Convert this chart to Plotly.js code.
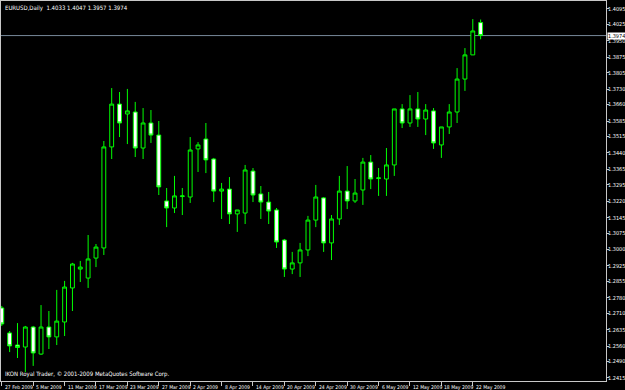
<!DOCTYPE html>
<html>
<head>
<meta charset="utf-8">
<script src="https://cdn.plot.ly/plotly-3.0.1.min.js"></script>
<style>html,body{margin:0;padding:0;background:#000;}#chart{width:625px;height:390px;}</style>
</head>
<body>
<div id="chart"></div>
<script>
const dates = ['2009-02-27','2009-03-02','2009-03-03','2009-03-04','2009-03-05','2009-03-06','2009-03-09','2009-03-10','2009-03-11','2009-03-12','2009-03-13','2009-03-16','2009-03-17','2009-03-18','2009-03-19','2009-03-20','2009-03-23','2009-03-24','2009-03-25','2009-03-26','2009-03-27','2009-03-30','2009-03-31','2009-04-01','2009-04-02','2009-04-03','2009-04-06','2009-04-07','2009-04-08','2009-04-09','2009-04-10','2009-04-13','2009-04-14','2009-04-15','2009-04-16','2009-04-17','2009-04-20','2009-04-21','2009-04-22','2009-04-23','2009-04-24','2009-04-27','2009-04-28','2009-04-29','2009-04-30','2009-05-01','2009-05-04','2009-05-05','2009-05-06','2009-05-07','2009-05-08','2009-05-11','2009-05-12','2009-05-13','2009-05-14','2009-05-15','2009-05-18','2009-05-19','2009-05-20','2009-05-21','2009-05-22','2009-05-25'];
const open  = [1.2734,1.2620,1.2565,1.2556,1.2647,1.2524,1.2647,1.2602,1.2670,1.2825,1.2911,1.2870,1.2961,1.3007,1.3467,1.3662,1.3617,1.3626,1.3462,1.3576,1.3521,1.3221,1.3189,1.3241,1.3239,1.3458,1.3503,1.3412,1.3266,1.3275,1.3162,1.3166,1.3357,1.3253,1.3216,1.3180,1.3043,1.2911,1.2939,1.2998,1.3134,1.3235,1.3030,1.3139,1.3266,1.3221,1.3271,1.3398,1.3323,1.3321,1.3385,1.3640,1.3576,1.3640,1.3594,1.3631,1.3476,1.3558,1.3626,1.3776,1.3886,1.4033];
const high  = [1.2743,1.2629,1.2665,1.2652,1.2652,1.2747,1.2720,1.2816,1.2857,1.2939,1.2948,1.3066,1.3025,1.3494,1.3735,1.3717,1.3731,1.3672,1.3644,1.3635,1.3585,1.3280,1.3335,1.3280,1.3512,1.3489,1.3576,1.3417,1.3303,1.3330,1.3180,1.3385,1.3371,1.3289,1.3262,1.3189,1.3048,1.2989,1.3030,1.3153,1.3294,1.3239,1.3157,1.3335,1.3380,1.3321,1.3417,1.3430,1.3371,1.3462,1.3640,1.3662,1.3703,1.3717,1.3662,1.3644,1.3558,1.3662,1.3826,1.3917,1.4049,1.4047];
const low   = [1.2652,1.2533,1.2506,1.2442,1.2470,1.2520,1.2547,1.2565,1.2606,1.2720,1.2852,1.2825,1.2920,1.2975,1.3412,1.3512,1.3480,1.3421,1.3412,1.3485,1.3248,1.3102,1.3166,1.3157,1.3212,1.3353,1.3348,1.3216,1.3139,1.3116,1.3080,1.3116,1.3216,1.3139,1.3116,1.3007,1.2875,1.2888,1.2875,1.2970,1.3102,1.2989,1.2952,1.3112,1.3184,1.3212,1.3203,1.3275,1.3244,1.3244,1.3335,1.3553,1.3558,1.3558,1.3521,1.3458,1.3417,1.3526,1.3576,1.3722,1.3886,1.3957];
const close = [1.2661,1.2561,1.2554,1.2647,1.2529,1.2647,1.2602,1.2674,1.2829,1.2934,1.2920,1.2957,1.3011,1.3467,1.3662,1.3576,1.3631,1.3462,1.3576,1.3521,1.3285,1.3189,1.3244,1.3244,1.3453,1.3476,1.3408,1.3266,1.3275,1.3162,1.3180,1.3362,1.3248,1.3216,1.3175,1.3034,1.2911,1.2939,1.2998,1.3134,1.3239,1.3030,1.3139,1.3266,1.3221,1.3257,1.3398,1.3321,1.3326,1.3385,1.3640,1.3576,1.3640,1.3594,1.3635,1.3485,1.3558,1.3626,1.3776,1.3886,1.3995,1.3974];

const xTickDates  = ['2009-02-27','2009-03-05','2009-03-11','2009-03-17','2009-03-23','2009-03-27','2009-04-02','2009-04-08','2009-04-14','2009-04-20','2009-04-24','2009-04-30','2009-05-06','2009-05-12','2009-05-18','2009-05-22'];
const xTickLabels = ['27 Feb 2009','5 Mar 2009','11 Mar 2009','17 Mar 2009','23 Mar 2009','27 Mar 2009','2 Apr 2009','8 Apr 2009','14 Apr 2009','20 Apr 2009','24 Apr 2009','30 Apr 2009','6 May 2009','12 May 2009','18 May 2009','22 May 2009'];
const yTickLabels = ['1.4095','1.4025','1.3950','1.3875','1.3805','1.3730','1.3660','1.3585','1.3515','1.3440','1.3365','1.3295','1.3220','1.3145','1.3075','1.3000','1.2925','1.2855','1.2780','1.2710','1.2635','1.2560','1.2490','1.2415'];
const symbolTitle = 'EURUSD,Daily  1.4033 1.4047 1.3957 1.3974';
const footerText = 'IKON Royal Trader, © 2001-2009 MetaQuotes Software Corp.';
const bidPrice = 1.3974;

const FONT = '"Liberation Sans Narrow", "DejaVu Sans Condensed", "Liberation Sans", sans-serif';
const frame = '#c8c8c8';

const trace = {
  type: 'candlestick',
  x: dates,
  open: open, high: high, low: low, close: close,
  increasing: {line: {color: '#00ff00', width: 1}, fillcolor: '#000000'},
  decreasing: {line: {color: '#00ff00', width: 1}, fillcolor: '#ffffff'},
  whiskerwidth: 0,
  hoverinfo: 'skip'
};

// date labels drawn left-aligned just right of each tick, as in the terminal
const dateAnnotations = xTickDates.map((d, i) => ({
  xref: 'x', yref: 'paper', x: d, y: 0, xanchor: 'left', yanchor: 'top',
  xshift: 1, yshift: -1, text: xTickLabels[i], showarrow: false,
  font: {family: FONT, size: 5, color: '#ffffff'}
}));

const layout = {
  width: 625, height: 390,
  margin: {l: 1, r: 19, t: 1, b: 9, pad: 0},
  paper_bgcolor: '#000000',
  plot_bgcolor: '#000000',
  showlegend: false,
  hovermode: false,
  boxgap: 0.3,
  font: {family: FONT, size: 5.5, color: '#ffffff'},
  xaxis: {
    type: 'category',
    range: [-0.1, 76.97],
    rangeslider: {visible: false},
    showgrid: false, zeroline: false,
    showline: true, mirror: true, linecolor: frame, linewidth: 1,
    ticks: 'outside', ticklen: 4, tickcolor: frame, tickwidth: 1,
    tickmode: 'array', tickvals: xTickDates, ticktext: xTickLabels,
    showticklabels: false,
    fixedrange: true
  },
  yaxis: {
    side: 'right',
    range: [1.24013, 1.41314],
    showgrid: false, zeroline: false,
    showline: true, mirror: true, linecolor: frame, linewidth: 1,
    ticks: 'outside', ticklen: 2, tickcolor: frame, tickwidth: 1,
    tickmode: 'array', tickvals: yTickLabels.map(Number), ticktext: yTickLabels,
    ticklabelstandoff: -2,
    tickfont: {family: FONT, size: 5.5, color: '#ffffff'},
    fixedrange: true
  },
  shapes: [{
    type: 'line', xref: 'paper', yref: 'y', x0: 0, x1: 1, y0: bidPrice, y1: bidPrice,
    line: {color: '#778899', width: 1}, layer: 'below'
  }],
  annotations: [
    {xref: 'paper', yref: 'paper', x: 0, y: 1, xanchor: 'left', yanchor: 'top', xshift: 2, yshift: -1,
     text: symbolTitle, showarrow: false, font: {family: FONT, size: 6, color: '#ffffff'}},
    {xref: 'paper', yref: 'paper', x: 0, y: 0, xanchor: 'left', yanchor: 'bottom', xshift: 2, yshift: 1,
     text: footerText, showarrow: false, font: {family: FONT, size: 6, color: '#ffffff'}},
    {xref: 'paper', yref: 'y', x: 1, y: bidPrice, xanchor: 'left', yanchor: 'middle', xshift: 1,
     text: bidPrice.toFixed(4), showarrow: false, bgcolor: '#ffffff', borderpad: 0,
     font: {family: FONT, size: 5.5, color: '#000000'}}
  ].concat(dateAnnotations)
};

Plotly.newPlot('chart', [trace], layout, {displayModeBar: false, staticPlot: true});
</script>
</body>
</html>
